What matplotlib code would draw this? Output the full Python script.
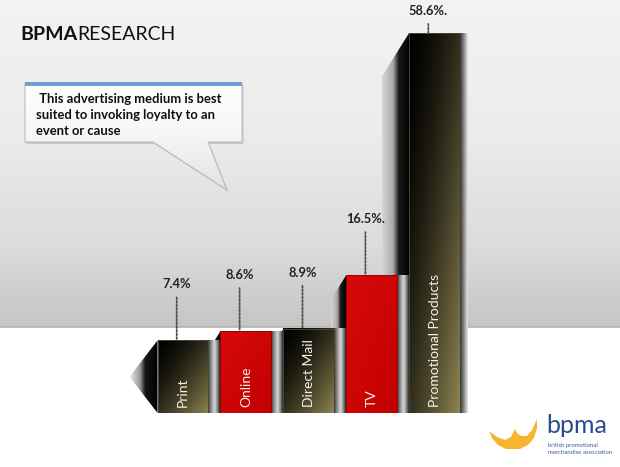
import numpy as np
import matplotlib.pyplot as plt
from matplotlib.colors import to_rgb
from matplotlib.patches import Polygon, Rectangle
from matplotlib.transforms import offset_copy

plt.rcParams['font.family'] = ['Lato', 'DejaVu Sans']

# data
channels = ['Print', 'Online', 'Direct Mail', 'TV', 'Promotional Products']
shares = [7.4, 8.6, 8.9, 16.5, 58.6]
share_labels = ['7.4%', '8.6%', '8.9%', '16.5%.', '58.6%.']
callout = ' This advertising medium is best\nsuited to invoking loyalty to an\nevent or cause'
red_channels = {'Online', 'TV'}

W, H = 620, 467
fig = plt.figure(figsize=(W / 100, H / 100), dpi=100)
fig.patch.set_facecolor('white')

# pixel-space background layer
bg = fig.add_axes([0, 0, 1, 1])
bg.set_xlim(0, W)
bg.set_ylim(H, 0)
bg.axis('off')


def ramp(stops, n):
    pos = np.linspace(0, 1, n)
    s = np.array([p for p, _ in stops])
    cols = np.array([to_rgb(c) for _, c in stops])
    return np.stack([np.interp(pos, s, cols[:, k]) for k in range(3)], axis=-1)


def lerp(c0, c1, t):
    a, b = np.array(to_rgb(c0)), np.array(to_rgb(c1))
    return a + (b - a) * t[..., None]


def grad_poly(pts, img, extent, z):
    poly = Polygon(pts, closed=True, facecolor='none', edgecolor='none',
                   transform=bg.transData)
    bg.add_patch(poly)
    im = bg.imshow(img, extent=extent, aspect='auto', zorder=z,
                   interpolation='bilinear')
    im.set_clip_path(poly)


floor = 327
sky = ramp([(0, '#f3f3f3'), (0.4, '#ececec'), (0.75, '#dcdcdc'), (1, '#c5c5c5')], 200)
bg.imshow(sky[:, None, :], extent=(0, W, floor, 0), aspect='auto', zorder=0)
bg.plot([0, W], [floor, floor], color='#b3b3b3', lw=1.2, zorder=1)

# bar layer (the infographic uses a compressed power scale)
x = np.arange(len(channels))
step = 62.9
ax = fig.add_axes([(183 - step / 2) / W, (H - 413) / H, step * len(channels) / W, 380 / H])
ax.set_yscale('function', functions=(lambda v: np.power(np.clip(v, 0, None), 0.8),
                                     lambda v: np.power(np.clip(v, 0, None), 1.25)))
ax.set_xlim(-0.5, len(channels) - 0.5)
ax.set_ylim(0, max(shares))
ax.axis('off')

edge = ['#9a0000' if c in red_channels else '#4a4636' for c in channels]
bars = ax.bar(x, shares, width=0.81, facecolor='none', edgecolor=edge, lw=0.7, zorder=3)


def px(xd, yd):
    X, Y = ax.transData.transform((xd, yd))
    return X, H - Y


boxes = []
for b in bars:
    l, bot = px(b.get_x(), 0)
    r, top = px(b.get_x() + b.get_width(), b.get_height())
    boxes.append((l, r, top, bot))

# side faces / shadows
l, r, t, b = boxes[0]
d = 28
img = ramp([(0, '#e8e8e8'), (0.35, '#9c9c9c'), (0.55, '#151515'), (1, '#000000')], 64)[None]
grad_poly([(l, t), (l - d, (t + b) / 2), (l, b)], img, (l - d, l, b, t), 2)

for i in range(1, len(boxes)):
    pl, pr, pt, pb = boxes[i - 1]
    l, r, t, b = boxes[i]
    d = 12 + 0.062 * (pt - t)
    s = 1.6 * d
    img = ramp([(0, '#d6d6d6'), (0.4, '#a8a8a8'), (0.6, '#1a1a1a'), (1, '#000000')], 64)[None]
    grad_poly([(l - d, t + s), (l, t), (l, b), (l - d, b)], img, (l - d, l, b, t), 2)
    gap = ramp([(0, '#3c3c3c'), (0.3, '#9a9a9a'), (0.55, '#d8d8d8'), (0.8, '#8a8a8a'), (1, '#2a2a2a')], 32)[None]
    bg.imshow(gap, extent=(pr, l, pb, pt), aspect='auto', zorder=3, interpolation='bilinear')

l, r, t, b = boxes[-1]
strip = ramp([(0, '#2e2e2e'), (0.4, '#7a7a7a'), (1, '#e6e6e6')], 32)[None]
bg.imshow(strip, extent=(r, r + 8, b, t), aspect='auto', zorder=3, interpolation='bilinear')

# bar fills
u = np.linspace(0, 1, 64)[None, :]
v = np.linspace(0, 1, 128)[:, None]
for name, (l, r, t, b) in zip(channels, boxes):
    if name in red_channels:
        img = lerp('#d80a0a', '#c20000', 0.5 * u + 0.5 * v)
    else:
        img = lerp('#000000', '#8e8452', ((u + v) / 2) ** 1.5)
    ax.imshow(img, extent=(l, r, b, t), transform=bg.transData, aspect='auto',
              zorder=2, interpolation='bilinear')

# value labels with dotted leaders
for i, (val, lab, (l, r, t, b)) in enumerate(zip(shares, share_labels, boxes)):
    dy = min(56, t - 11)
    ax.annotate(lab, xy=(i - 0.1, val), xytext=(0, dy), textcoords='offset pixels',
                ha='center', va='center', fontsize=9.3, fontweight='bold', color='#222222',
                annotation_clip=False, zorder=4,
                arrowprops=dict(arrowstyle='-', linestyle=(0, (1, 1)), lw=1.3,
                                color='#505050', shrinkA=3, shrinkB=0))

lift = offset_copy(ax.transData, fig=fig, y=6, units='dots')
for i, name in enumerate(channels):
    ax.text(i, 0, name, transform=lift, rotation=90, ha='center', va='bottom',
            color='#f5f2e6', fontsize=10, zorder=5)

# title
t1 = bg.text(20, 43, 'BPMA', fontsize=14, fontweight='bold', color='#111111', va='bottom')
bg.annotate('RESEARCH', xy=(1, 0), xycoords=t1, fontsize=14, color='#111111',
            va='bottom', ha='left')

# callout
box = [(25, 83), (242, 83), (242, 142), (208, 142), (227, 190), (153, 142), (25, 142)]
bg.add_patch(Polygon([(px_ + 1.5, py_ + 2) for px_, py_ in box], closed=True,
                     facecolor='#c9c9c9', edgecolor='none', zorder=4))
fill = ramp([(0, '#ffffff'), (0.5, '#f6f6f6'), (1, '#e2e2e2')], 64)[:, None, :]
grad_poly(box, fill, (25, 242, 190, 83), 5)
bg.add_patch(Polygon(box, closed=True, facecolor='none', edgecolor='#bcbcbc', lw=0.8, zorder=6))
bg.add_patch(Rectangle((25, 82), 217, 3.5, facecolor='#6f9fd3', edgecolor='none', zorder=7))
bg.text(36, 93, callout, fontsize=9.4, fontweight='bold', color='#111111', va='top',
        ha='left', linespacing=1.4, zorder=8)

# logo
crown = [(489, 431), (497, 437), (505, 440), (511, 437), (515, 429), (517, 433), (521, 436),
         (527, 436), (532, 430), (537, 419), (537, 428), (534, 438), (528, 445), (520, 449),
         (506, 449), (498, 445), (492, 438)]
bg.add_patch(Polygon(crown, closed=True, facecolor='#f7b42c', edgecolor='none', zorder=4))
bg.text(546, 433, 'bpma', fontsize=18, color='#2b4c8c', va='baseline', ha='left', zorder=4)
bg.text(548, 447, 'british promotional', fontsize=4.3, color='#3a5a9a', va='baseline', zorder=4)
bg.text(548, 454, 'merchandise association', fontsize=4.3, color='#3a5a9a', va='baseline', zorder=4)

bg.set_xlim(0, W)
bg.set_ylim(H, 0)
fig.savefig('out.png', dpi=100)
